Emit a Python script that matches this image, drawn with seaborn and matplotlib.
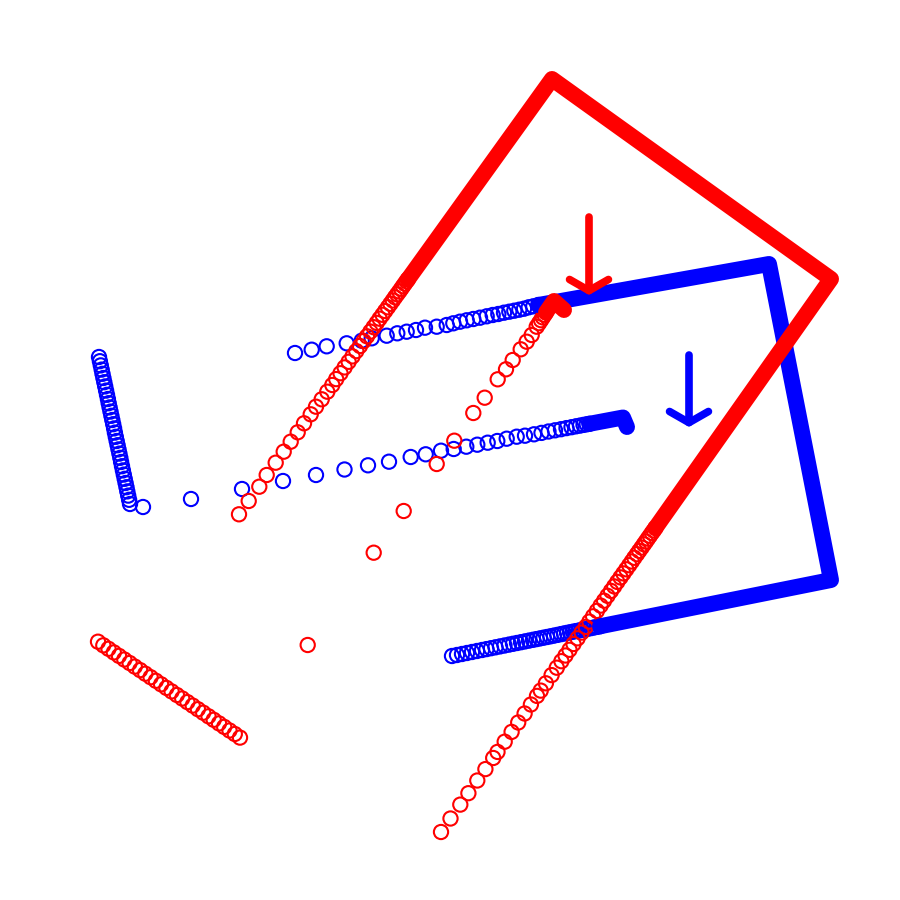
import matplotlib
matplotlib.use('Agg')
import matplotlib.pyplot as plt
import seaborn as sns

sns.set_style('white')

# blue trail, left steep run
blue_a_x = [99, 99.9, 100.8, 101.7, 102.5, 103.4, 104.3, 105.2, 106.1, 107, 107.9, 108.7,
            109.6, 110.5, 111.4, 112.3, 113.2, 114.1, 114.9, 115.8, 116.7, 117.6, 118.5, 119.4,
            120.3, 121.1, 122, 122.9, 123.8, 124.7, 125.6, 126.5, 127.3, 128.2, 129.1, 130]
blue_a_y = [357, 361.2, 365.4, 369.6, 373.8, 378, 382.2, 386.4, 390.6, 394.8, 399, 403.2,
            407.4, 411.6, 415.8, 420, 424.2, 428.4, 432.6, 436.8, 441, 445.2, 449.4, 453.6,
            457.8, 462, 466.2, 470.4, 474.6, 478.8, 483, 487.2, 491.4, 495.6, 499.8, 504]

# blue trail, middle run ending in a hook
blue_b_x = [143, 191, 242, 283, 316, 344.5, 368, 389, 410.7, 425.7, 441, 453.7, 466.3, 477.3,
            487.7, 497.3, 506.7, 516.7, 525, 534, 541.5, 548.5, 555, 561, 566.5, 571.5, 576,
            580, 583.5, 586.7, 589.5]
blue_b_y = [507, 499, 489, 481, 475, 469.5, 465.3, 461.7, 457, 454.3, 450.7, 449, 446.7, 444.7,
            442.7, 441, 438.7, 436.7, 435.7, 434.3, 432.9, 431.5, 430.3, 429.2, 428.1, 427.2,
            426.3, 425.6, 424.9, 424.3, 423.8]
blue_b_band_x = [589.5, 623, 627]
blue_b_band_y = [423.8, 417.5, 427]

# blue trail, upper run + box
blue_c_x = [295, 311.7, 326.7, 346.7, 361.7, 371.7, 386.7, 397.3, 406.7, 416, 425, 436.7,
            446.7, 453.3, 460, 466.7, 473.3, 480, 486.7, 492.7, 498.3, 504, 509.3, 514.3,
            519.3, 524, 528.7, 533.3, 538.3]
blue_c_y = [353, 349.7, 346.3, 343.3, 340.7, 338.3, 335.7, 333.3, 331.7, 330, 327.7, 326.7,
            325, 323.3, 321.7, 320.3, 319, 317.7, 316.3, 315, 314, 312.7, 311.7, 310.7,
            309.7, 308.7, 307.3, 306.3, 305]
blue_c_band_x = [538.3, 769, 831, 600]
blue_c_band_y = [305, 264, 580, 626.3]
blue_d_x = [452, 457, 462, 467, 472, 477, 482, 486.5, 491, 495.5, 500, 504.5, 509, 513, 517,
            521, 525, 529, 533, 536.5, 540, 543.5, 547, 550.5, 554, 557.5, 561, 564, 567, 570,
            573, 576, 579, 582, 585, 588, 591, 594, 597, 600]
blue_d_y = [656, 655, 654, 653, 652, 651, 650, 649.1, 648.2, 647.3, 646.4, 645.5, 644.6, 643.8,
            643, 642.2, 641.4, 640.6, 639.8, 639.1, 638.4, 637.7, 637, 636.3, 635.6, 634.9,
            634.1, 633.5, 632.9, 632.3, 631.7, 631.1, 630.5, 629.9, 629.3, 628.7, 628.1, 627.5,
            626.9, 626.3]

# red trail, lower-left run
red_a_x = [98, 103.3, 108.5, 113.8, 119, 124.3, 129.6, 134.8, 140.1, 145.3, 150.6, 155.9,
           161.1, 166.4, 171.6, 176.9, 182.2, 187.4, 192.7, 197.9, 203.2, 208.5, 213.7, 219,
           224.2, 229.5, 234.8, 240]
red_a_y = [641.7, 645.3, 648.8, 652.4, 655.9, 659.5, 663, 666.6, 670.1, 673.7, 677.2, 680.8,
           684.3, 687.9, 691.4, 695, 698.5, 702.1, 705.6, 709.2, 712.7, 716.3, 719.8, 723.4,
           726.9, 730.5, 734, 737.6]

# red trail, middle run ending in a hook
red_b_x = [307.7, 373.7, 403.7, 436.7, 454.3, 473.3, 484.7, 497.7, 506, 512.7, 520.7, 526.7,
           531.7, 536.7, 539, 541, 542.8, 544.5, 546]
red_b_y = [645, 552.7, 511, 464, 440.7, 413, 397.7, 379.3, 369.3, 360, 349.3, 341.7, 335,
           326.7, 323.2, 320.2, 317.4, 314.8, 312.5]
red_b_band_x = [546, 554, 564]
red_b_band_y = [312.5, 301, 310]

# red trail, long run + big triangle
red_c_x = [239, 248.7, 259.3, 266.7, 275.7, 283.7, 290.7, 297.7, 304, 310.7, 316, 321.7, 327.3,
           332.3, 336.2, 340.5, 344.6, 348.6, 352.5, 356.3, 360, 363.6, 367, 370.4, 373.6,
           376.7, 379.6, 382.5, 385.2, 387.9, 390.4, 392.8, 395, 397.2, 399.3, 401.2, 403,
           404.8, 406.5, 408]
red_c_y = [514.3, 501, 486.7, 475, 462.7, 451.7, 441.7, 432.3, 423.3, 414.3, 406.7, 399.3, 391.7,
           385, 379.1, 373.2, 367.4, 361.8, 356.4, 351.1, 346, 341.1, 336.3, 331.6, 327.2,
           322.9, 318.7, 314.8, 311, 307.3, 303.8, 300.5, 297.3, 294.3, 291.5, 288.8, 286.2,
           283.7, 281.3, 279.3]
red_c_band_x = [408, 552, 831, 655.4]
red_c_band_y = [279.3, 79, 279, 528]
red_d_x = [441, 450.5, 460.3, 468.4, 477.3, 485.4, 493.2, 497.5, 504.7, 511.6, 518.2, 524.6,
           530.9, 537, 540.7, 545.9, 551.6, 556.8, 561.4, 565.5, 569.5, 573.5, 577.6, 581.6,
           585.7, 589.4, 593.1, 596.9, 600.6, 604.1, 607.5, 611, 614.2, 617.3, 620.5, 623.4,
           626.3, 629.2, 631.8, 634.3, 636.9, 639.2, 641.6, 643.9, 645.9, 647.9, 649.9, 651.9,
           653.7, 655.4]
red_d_y = [832, 818.5, 804.6, 793.2, 780.5, 769.1, 758, 751.9, 741.7, 731.9, 722.5, 713.5,
           704.5, 695.9, 690.6, 683.3, 675.1, 667.7, 661.2, 655.5, 649.8, 644, 638.3, 632.6,
           626.9, 621.6, 616.3, 610.9, 605.6, 600.7, 595.8, 590.9, 586.4, 581.9, 577.4, 573.4,
           569.3, 565.2, 561.5, 557.8, 554.2, 550.9, 547.6, 544.3, 541.5, 538.6, 535.8, 532.9,
           530.5, 528]

# arrows: (x, y_start, y_end)
red_arrow = (589, 217, 295)
blue_arrow = (689, 355, 427)

fig = plt.figure(figsize=(9, 9), dpi=100)
ax = fig.add_axes([0, 0, 1, 1])

RING = dict(s=105, marker='o', facecolor='none', linewidth=1.5, legend=False)
BAND = dict(lw=11.5, sort=False, estimator=None, legend=False,
            solid_capstyle='round', solid_joinstyle='round')


def draw_trail(color, rings, bands):
    for xs, ys in bands:
        sns.lineplot(x=xs, y=ys, color=color, ax=ax, **BAND)
    for xs, ys in rings:
        sns.scatterplot(x=xs, y=ys, edgecolor=color, ax=ax, **RING)


draw_trail('#0000ff',
           [(blue_a_x, blue_a_y), (blue_b_x, blue_b_y), (blue_c_x, blue_c_y), (blue_d_x, blue_d_y)],
           [(blue_b_band_x, blue_b_band_y), (blue_c_band_x, blue_c_band_y)])
draw_trail('#ff0000',
           [(red_a_x, red_a_y), (red_b_x, red_b_y), (red_c_x, red_c_y), (red_d_x, red_d_y)],
           [(red_b_band_x, red_b_band_y), (red_c_band_x, red_c_band_y)])

for (x, y0, y1), color in [(blue_arrow, '#0000ff'), (red_arrow, '#ff0000')]:
    ax.annotate('', xy=(x, y1), xytext=(x, y0),
                arrowprops=dict(arrowstyle='->,head_length=0.8,head_width=1.4',
                                color=color, lw=5.5, shrinkA=0, shrinkB=0))

ax.set_xlim(0, 900)
ax.set_ylim(900, 0)
ax.axis('off')

plt.savefig('out.png', dpi=100)
